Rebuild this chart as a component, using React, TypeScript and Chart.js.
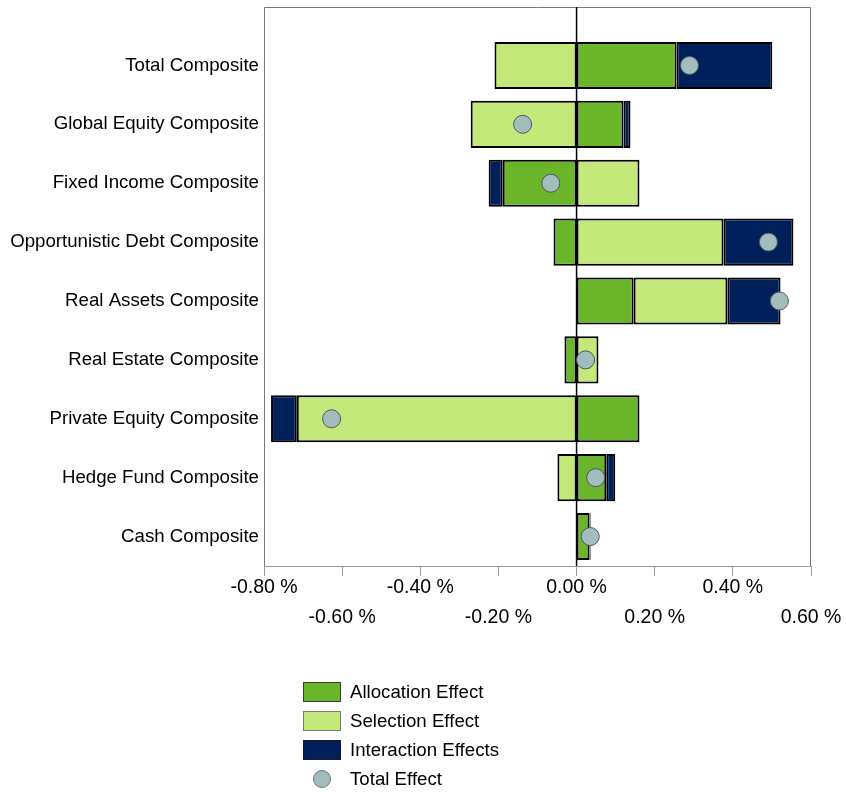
import React, { useEffect, useRef } from "react";
import { Chart, registerables } from "chart.js";

Chart.register(...registerables);

const categories = [
  "Total Composite",
  "Global Equity Composite",
  "Fixed Income Composite",
  "Opportunistic Debt Composite",
  "Real Assets Composite",
  "Real Estate Composite",
  "Private Equity Composite",
  "Hedge Fund Composite",
  "Cash Composite",
];

const allocationEffect = [0.256, 0.12, -0.189, -0.059, 0.146, -0.031, 0.161, 0.076, 0.033];
const selectionEffect = [-0.21, -0.271, 0.161, 0.376, 0.24, 0.056, -0.716, -0.049, null];
const interactionEffects = [0.245, 0.018, -0.036, 0.179, 0.136, null, -0.066, 0.023, 0.003];
const totalEffect = [0.289, -0.138, -0.066, 0.491, 0.519, 0.023, -0.627, 0.049, 0.035];

const xMin = -0.8;
const xMax = 0.6;
const xStep = 0.2;

const seriesNames = ["Allocation Effect", "Selection Effect", "Interaction Effects", "Total Effect"];
const colors = {
  allocation: "#6bb52a",
  selection: "#c4e87a",
  interaction: "#00205b",
  total: "#a3bdbf",
};

const FONT = "'Liberation Sans', Arial, Helvetica, sans-serif";

const framePlugin = {
  id: "frame",
  beforeDatasetsDraw(chart: any) {
    const { ctx, chartArea } = chart;
    const top = chartArea.top - 29;
    ctx.save();
    ctx.strokeStyle = "#7a7a7a";
    ctx.lineWidth = 1;
    ctx.beginPath();
    ctx.moveTo(chartArea.left + 0.5, chartArea.bottom);
    ctx.lineTo(chartArea.left + 0.5, top + 0.5);
    ctx.lineTo(chartArea.right - 0.5, top + 0.5);
    ctx.lineTo(chartArea.right - 0.5, chartArea.bottom);
    ctx.stroke();
    const x0 = chart.scales.x.getPixelForValue(0);
    ctx.strokeStyle = "#000";
    ctx.lineWidth = 1.5;
    ctx.beginPath();
    ctx.moveTo(x0, top);
    ctx.lineTo(x0, chartArea.bottom);
    ctx.stroke();
    ctx.restore();
  },
};

function App() {
  const ref = useRef<HTMLCanvasElement>(null);

  useEffect(() => {
    if (!ref.current) return;
    Chart.defaults.font.family = FONT;
    Chart.defaults.color = "#000";
    const barCommon = {
      borderColor: "#000",
      borderWidth: 2,
      borderSkipped: false as const,
      stack: "effects",
      categoryPercentage: 1,
      barPercentage: 0.8,
      order: 1,
    };
    const chart = new Chart(ref.current, {
      type: "bar",
      data: {
        labels: categories,
        datasets: [
          { ...barCommon, label: seriesNames[0], data: allocationEffect, backgroundColor: colors.allocation },
          { ...barCommon, label: seriesNames[1], data: selectionEffect as any, backgroundColor: colors.selection },
          { ...barCommon, label: seriesNames[2], data: interactionEffects as any, backgroundColor: colors.interaction },
          {
            type: "line" as const,
            label: seriesNames[3],
            data: totalEffect,
            indexAxis: "y" as const,
            stack: "total",
            showLine: false,
            pointRadius: 9,
            pointHoverRadius: 9,
            pointBackgroundColor: colors.total,
            pointBorderColor: "#4a5a5c",
            pointBorderWidth: 1,
            order: 0,
          } as any,
        ],
      },
      options: {
        indexAxis: "y",
        animation: false,
        responsive: false,
        maintainAspectRatio: false,
        layout: { padding: { top: 36, right: 35, left: 0, bottom: 0 } },
        plugins: {
          legend: { display: false },
          tooltip: { enabled: false },
        },
        scales: {
          x: {
            type: "linear",
            stacked: true,
            min: xMin,
            max: xMax,
            afterFit: (scale: any) => {
              scale.height = 226;
            },
            ticks: {
              stepSize: xStep,
              autoSkip: false,
              maxRotation: 0,
              minRotation: 0,
              padding: -3,
              color: "#000",
              font: { size: 19.5, family: FONT, lineHeight: 1.513 },
              callback: (value: any, index: number) => {
                let v = Math.round(Number(value) * 100) / 100;
                if (Math.abs(v) < 1e-9) v = 0;
                const label = v.toFixed(2) + " %";
                return index % 2 === 0 ? [label] : ["", label];
              },
            },
            grid: {
              drawOnChartArea: false,
              drawTicks: true,
              tickLength: 10,
              color: "#999999",
            },
            border: { display: true, color: "#999999", width: 1 },
          },
          y: {
            type: "category",
            stacked: true,
            afterFit: (scale: any) => {
              scale.width = 264;
            },
            ticks: {
              padding: 5,
              color: "#000",
              font: { size: 18.67, family: FONT },
            },
            grid: { display: false, drawTicks: false },
            border: { display: false },
          },
        },
      },
      plugins: [framePlugin],
    });
    return () => chart.destroy();
  }, []);

  const legendItems = [
    { name: seriesNames[0], color: colors.allocation, border: "#3a3a3a", kind: "box" },
    { name: seriesNames[1], color: colors.selection, border: "#7a7a7a", kind: "box" },
    { name: seriesNames[2], color: colors.interaction, border: "#1a1a1a", kind: "box" },
    { name: seriesNames[3], color: colors.total, border: "#6a7a7c", kind: "circle" },
  ];

  return (
    <div style={{ position: "fixed", left: 0, top: 0, width: 846, height: 792, background: "#fff" }}>
      <canvas ref={ref} width={846} height={792} style={{ display: "block", width: 846, height: 792 }} />
      {legendItems.map((it, i) => {
        const cy = 692 + i * 29;
        return (
          <div key={it.name} style={{ position: "absolute", left: 0, top: 0 }}>
            {it.kind === "box" ? (
              <div
                style={{
                  position: "absolute",
                  left: 303,
                  top: cy - 10,
                  width: 38,
                  height: 20,
                  boxSizing: "border-box",
                  background: it.color,
                  border: `1px solid ${it.border}`,
                }}
              />
            ) : (
              <div
                style={{
                  position: "absolute",
                  left: 313,
                  top: cy - 9,
                  width: 18,
                  height: 18,
                  boxSizing: "border-box",
                  borderRadius: "50%",
                  background: it.color,
                  border: `1px solid ${it.border}`,
                }}
              />
            )}
            <div
              style={{
                position: "absolute",
                left: 350,
                top: cy - 12,
                height: 24,
                lineHeight: "24px",
                fontFamily: FONT,
                fontSize: 18.67,
                color: "#000",
                whiteSpace: "nowrap",
              }}
            >
              {it.name}
            </div>
          </div>
        );
      })}
    </div>
  );
}

export default App;
